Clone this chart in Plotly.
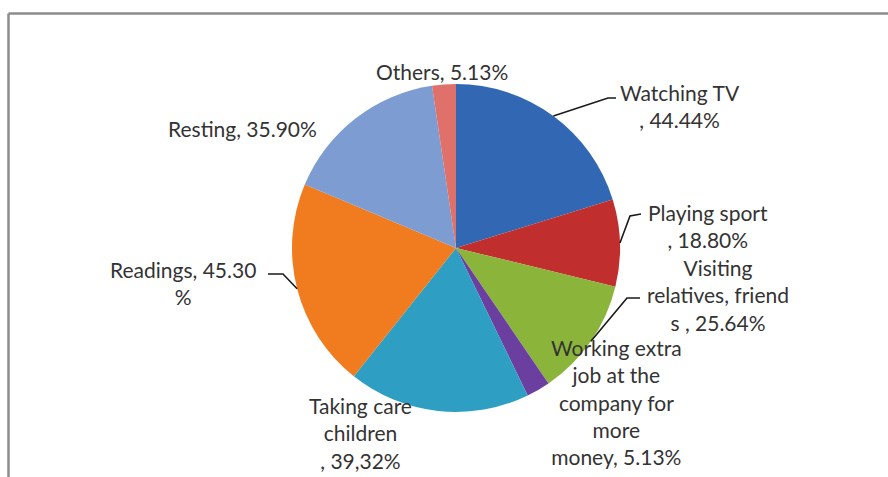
import math
import plotly.graph_objects as go

# Leisure activities (share of respondents, %; multiple answers allowed)
activities = ["Watching TV", "Playing sport", "Visiting relatives, friends",
              "Working extra job at the company for more money",
              "Taking care children", "Readings", "Resting", "Others"]
values = [44.44, 18.80, 25.64, 5.13, 39.32, 45.30, 35.90, 5.13]
label_texts = [
    "Watching TV<br>, 44.44%",
    "Playing sport<br>, 18.80%",
    "Visiting<br>relatives, friend<br>s , 25.64%",
    "Working extra<br>job at the<br>company for<br>more<br>money, 5.13%",
    "Taking care<br>children<br>, 39,32%",
    "Readings, 45.30<br>%",
    "Resting, 35.90%",
    "Others, 5.13%",
]
colors = ["#3267B3", "#C02F2D", "#8BB43B", "#6B3F9F",
          "#2E9EC2", "#F07C1F", "#7D9CD1", "#E0716A"]

W, H = 888, 477
CX, CY, R = 456, 248, 164  # pie centre and radius in pixels (from top-left)

# label block centres (pixels) and whether a leader line is drawn
label_pos = [(680, 106), (708, 226), (718, 295), (616, 402),
             (360, 433), (183, 283), (242, 128), (442, 72)]
# leader line elbow and end points (pixels); None = no leader line
leaders = [((608, 98), (616, 98)),
           ((630, 216), (641, 214)),
           ((627, 298), (640, 298)),
           None,
           None,
           ((283, 274), (268, 274)),
           None,
           None]


def px_to_paper(x, y):
    return x / W, 1 - y / H


fig = go.Figure(go.Pie(
    labels=activities,
    values=values,
    sort=False,
    direction="clockwise",
    rotation=0,
    marker=dict(colors=colors, line=dict(width=0)),
    textinfo="none",
    hoverinfo="label+value",
    domain=dict(x=[(CX - R) / W, (CX + R) / W],
                y=[(H - CY - R) / H, (H - CY + R) / H]),
    showlegend=False,
))

total = sum(values)
cum = 0.0
shapes = []
annotations = []
for v, txt, (lx, ly), ld in zip(values, label_texts, label_pos, leaders):
    mid = math.radians((cum + v / 2) / total * 360)
    cum += v
    if ld is not None:
        ex = CX + R * math.sin(mid)
        ey = CY - R * math.cos(mid)
        p0 = px_to_paper(ex, ey)
        p1 = px_to_paper(*ld[0])
        p2 = px_to_paper(*ld[1])
        shapes.append(dict(
            type="path", xref="paper", yref="paper",
            path=f"M {p0[0]},{p0[1]} L {p1[0]},{p1[1]} L {p2[0]},{p2[1]}",
            line=dict(color="#1a1a1a", width=1.6),
        ))
    ax_, ay_ = px_to_paper(lx, ly)
    annotations.append(dict(
        text=txt, x=ax_, y=ay_, xref="paper", yref="paper",
        xanchor="center", yanchor="middle", align="center",
        showarrow=False,
        font=dict(family="Lato", size=21, color="#333333"),
    ))

# chart frame (top and left edges)
fx0, fy0 = px_to_paper(8.5, 13.5)
shapes.append(dict(type="line", xref="paper", yref="paper",
                   x0=fx0, y0=fy0, x1=1.0, y1=fy0,
                   line=dict(color="#8c8c8c", width=2.5)))
shapes.append(dict(type="line", xref="paper", yref="paper",
                   x0=fx0, y0=fy0, x1=fx0, y1=0.0,
                   line=dict(color="#8c8c8c", width=2.5)))

fig.update_layout(
    width=W, height=H,
    margin=dict(l=0, r=0, t=0, b=0),
    paper_bgcolor="white",
    plot_bgcolor="white",
    shapes=shapes,
    annotations=annotations,
)

fig.write_html("out.html")
